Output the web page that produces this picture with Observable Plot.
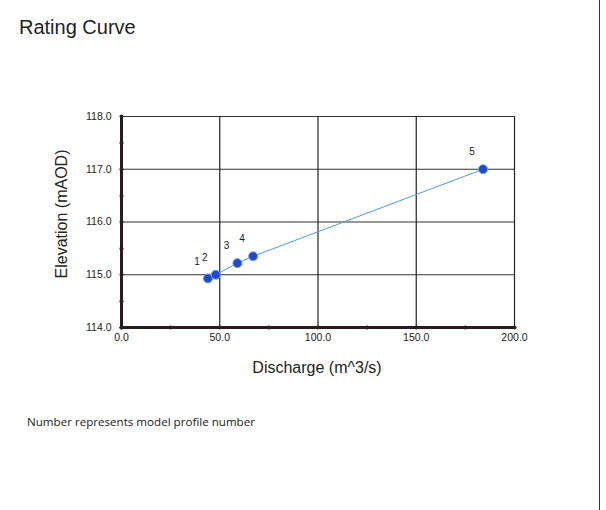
<!DOCTYPE html>
<html>
<head>
<meta charset="utf-8">
<script src="https://cdn.jsdelivr.net/npm/d3@7"></script>
<script src="https://cdn.jsdelivr.net/npm/@observablehq/plot@0.6"></script>
<style>
  html, body { margin: 0; padding: 0; background: #fff; }
  #page { position: relative; width: 606px; height: 510px; overflow: hidden; font-family: "Liberation Sans", Arial, sans-serif; }
  #border { position: absolute; left: 599px; top: 0; width: 1px; height: 510px; background: #333; }
  #title { position: absolute; left: 19px; top: 16px; font-size: 20px; color: #222; line-height: 23px; }
  #chart { position: absolute; left: 0; top: 60px; }
  #ylabel { position: absolute; left: 62px; top: 214px; transform: translate(-50%, -50%) rotate(-90deg); font-size: 16px; color: #222; white-space: nowrap; }
  #xlabel { position: absolute; left: 317px; top: 368px; transform: translate(-50%, -50%); font-size: 16px; color: #222; white-space: nowrap; }
  #caption { position: absolute; left: 27px; top: 414px; font-family: "Open Sans", sans-serif; font-size: 11.6px; color: #222; }
</style>
</head>
<body>
<div id="page">
  <div id="border"></div>
  <div id="title">Rating Curve</div>
  <div id="chart"></div>
  <div id="ylabel">Elevation (mAOD)</div>
  <div id="xlabel">Discharge (m^3/s)</div>
  <div id="caption">Number represents model profile number</div>
</div>
<script>
const profiles = ["1", "2", "3", "4", "5"];
const discharge = [44, 48, 59, 67, 184];
const elevation = [114.93, 115.0, 115.22, 115.35, 117.0];
const xTicks = [0, 50, 100, 150, 200];
const yTicks = [114, 115, 116, 117, 118];
const xMinor = [25, 75, 125, 175];
const yMinor = [114.5, 115.5, 116.5, 117.5];

const data = profiles.map((p, i) => ({profile: p, q: discharge[i], h: elevation[i]}));
const fmt = d3.format(".1f");

const chart = Plot.plot({
  width: 606,
  height: 340,
  marginLeft: 121,
  marginRight: 92,
  marginTop: 56,
  marginBottom: 73,
  x: {domain: [0, 200]},
  y: {domain: [114, 118]},
  style: {fontFamily: "Liberation Sans, Arial, sans-serif", color: "#222", background: "transparent"},
  marks: [
    Plot.ruleY(yTicks.slice(1), {stroke: "#333", strokeWidth: 1, strokeOpacity: 1}),
    Plot.ruleX(xTicks.slice(1), {stroke: "#222", strokeWidth: 1.2, strokeOpacity: 1}),
    Plot.ruleX([0], {stroke: "#2a1c1c", strokeWidth: 3}),
    Plot.ruleY([114], {stroke: "#2a1c1c", strokeWidth: 3}),
    Plot.dot(yTicks.concat(yMinor), {x: 0, y: d => d, r: 2, fill: "#222", stroke: "none"}),
    Plot.dot(xTicks.concat(xMinor), {x: d => d, y: 114, r: 2, fill: "#222", stroke: "none"}),
    Plot.axisX(xTicks, {tickSize: 0, tickPadding: 6, tickFormat: fmt, fontSize: 10.5, label: null}),
    Plot.axisY(yTicks, {tickSize: 0, tickPadding: 10, tickFormat: fmt, fontSize: 10.5, label: null}),
    Plot.line(data, {x: "q", y: "h", stroke: "#4f9be0", strokeWidth: 1}),
    Plot.dot(data, {x: "q", y: "h", r: 4.5, fill: "#2448c8", stroke: "#6aa6f0", strokeWidth: 1}),
    Plot.text(data, {x: "q", y: "h", text: "profile", dx: -11, dy: -17, fontSize: 10, fill: "#222"})
  ]
});
document.getElementById("chart").appendChild(chart);
</script>
</body>
</html>
